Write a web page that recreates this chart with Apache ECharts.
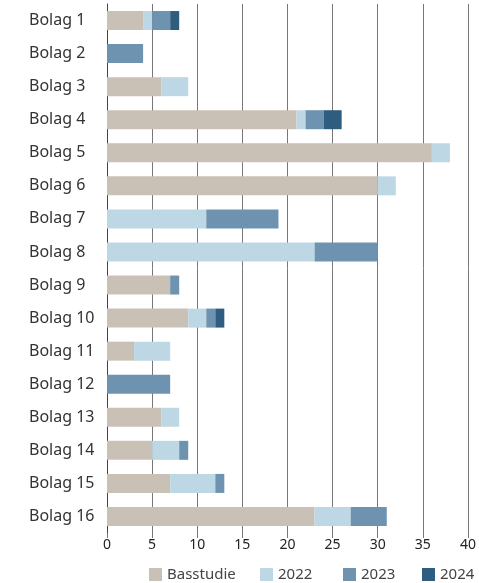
<!DOCTYPE html>
<html>
<head>
<meta charset="utf-8">
<script src="https://cdn.jsdelivr.net/npm/echarts@6/dist/echarts.min.js"></script>
<style>
  html, body { margin: 0; padding: 0; background: #fff; }
  #chart { width: 479px; height: 583px; }
</style>
</head>
<body>
<div id="chart"></div>
<script>
// Bolag 1 .. 16, top to bottom
const companies = ['Bolag 1', 'Bolag 2', 'Bolag 3', 'Bolag 4', 'Bolag 5', 'Bolag 6', 'Bolag 7', 'Bolag 8',
  'Bolag 9', 'Bolag 10', 'Bolag 11', 'Bolag 12', 'Bolag 13', 'Bolag 14', 'Bolag 15', 'Bolag 16']

const basstudie = [4, 0, 6, 21, 36, 30, 0, 0, 7, 9, 3, 0, 6, 5, 7, 23]
const y2022 = [1, 0, 3, 1, 2, 2, 11, 23, 0, 2, 4, 0, 2, 3, 5, 4]
const y2023 = [2, 4, 0, 2, 0, 0, 8, 7, 1, 1, 0, 7, 0, 1, 1, 4]
const y2024 = [1, 0, 0, 2, 0, 0, 0, 0, 0, 1, 0, 0, 0, 0, 0, 0]

const seriesNames = ['Basstudie', '2022', '2023', '2024']
const colors = ['#c9c1b5', '#bed7e4', '#6d93b0', '#2f5d80']
const legendLefts = [149, 260, 343, 422]

const chart = echarts.init(document.getElementById('chart'))

const fontFamily = '"Noto Sans", sans-serif'

function bar(name, data, color) {
  return {
    name: name,
    type: 'bar',
    stack: 'total',
    barWidth: 19,
    data: data,
    itemStyle: { color: color },
    animation: false
  }
}

chart.setOption({
  textStyle: { fontFamily: fontFamily },
  legend: seriesNames.map((n, i) => ({
    data: [n],
    bottom: 1,
    padding: 0,
    left: legendLefts[i],
    itemWidth: 13,
    itemHeight: 13,
    icon: 'rect',
    textStyle: { fontSize: 15, color: '#444', fontFamily: fontFamily }
  })),
  grid: {
    left: 107,
    right: 9,
    top: 4,
    bottom: 50,
    containLabel: false
  },
  xAxis: {
    type: 'value',
    min: 0,
    max: 40,
    interval: 5,
    axisLine: { show: false },
    axisTick: { show: true, length: 5, lineStyle: { color: '#777' } },
    axisLabel: { fontSize: 14, color: '#222', margin: 5, fontFamily: fontFamily },
    splitLine: { show: true, lineStyle: { color: '#777', width: 1 } }
  },
  yAxis: {
    type: 'category',
    inverse: true,
    data: companies,
    axisLine: { show: true, lineStyle: { color: '#444' } },
    axisTick: { show: false },
    axisLabel: { fontSize: 16, color: '#333', margin: 78, align: 'left', fontFamily: fontFamily }
  },
  series: [
    bar(seriesNames[0], basstudie, colors[0]),
    bar(seriesNames[1], y2022, colors[1]),
    bar(seriesNames[2], y2023, colors[2]),
    bar(seriesNames[3], y2024, colors[3])
  ]
})
</script>
</body>
</html>
